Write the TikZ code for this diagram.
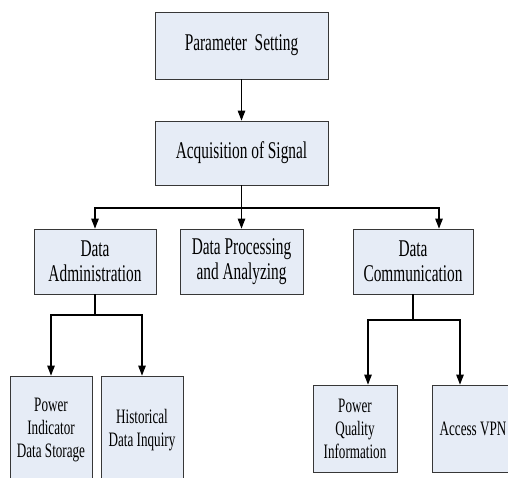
\documentclass[tikz,border=0pt]{standalone}
\usepackage{fontspec}
\setmainfont{Liberation Serif}[FakeStretch=0.64]
\usetikzlibrary{arrows.meta,calc}
\definecolor{boxfill}{RGB}{230,236,246}
\definecolor{boxline}{RGB}{55,55,55}
\tikzset{
 box/.style={draw=boxline, line width=0.8pt, fill=boxfill, rectangle, inner sep=0pt, align=center},
 big/.style={font=\fontsize{24}{25}\selectfont},
 small/.style={font=\fontsize{20.5}{23}\selectfont},
 conn/.style={line width=1.1pt, -{Triangle[length=10pt,width=7.5pt]}},
 plainline/.style={line width=1.1pt},
}
\begin{document}
\begin{tikzpicture}[x=1pt,y=-1pt]
\useasboundingbox (0,0) rectangle (508,477);
\clip (0,0) rectangle (508,477);
\node[box,big,minimum width=173pt,minimum height=67pt] (ps) at (241.5,45.5) {Parameter~ Setting};
\node[box,big,minimum width=173pt,minimum height=64pt] (acq) at (241.5,153) {Acquisition of Signal};
\node[box,big,minimum width=122pt,minimum height=65pt] (da) at (95,261.5) {Data\\Administration};
\node[box,big,minimum width=123pt,minimum height=65pt] (dp) at (241.5,261.5) {Data Processing\\and Analyzing};
\node[box,big,minimum width=120pt,minimum height=65pt] (dc) at (413,261.5) {Data\\Communication};
\node[box,small,minimum width=82pt,minimum height=108pt] (pi) at (51,430) {Power\\Indicator\\Data Storage};
\node[box,small,minimum width=82pt,minimum height=108pt] (hd) at (142,430) {Historical\\Data Inquiry};
\node[box,small,minimum width=84pt,minimum height=87pt] (pq) at (355,428.5) {Power\\Quality\\Information};
\node[box,small,minimum width=82pt,minimum height=87pt] (vpn) at (473,428.5) {Access VPN};
\draw[conn] (ps) -- (acq);
\coordinate (j1) at (241.5,208);
\draw[plainline] (acq.south) -- (j1);
\draw[conn] (j1) -| (da.north);
\draw[conn] (j1) -- (dp.north);
\draw[conn] (j1) -| ($(dc.north)+(26,0)$);
\coordinate (j2) at (95,315);
\draw[plainline] (da.south) -- (j2);
\draw[conn] (j2) -| (pi.north);
\draw[conn] (j2) -| (hd.north);
\coordinate (j3) at (413,320);
\draw[plainline] (dc.south) -- (j3);
\draw[conn] (j3) -| ($(pq.north)+(13,0)$);
\draw[conn] (j3) -| ($(vpn.north)+(-13,0)$);
\end{tikzpicture}
\end{document}
